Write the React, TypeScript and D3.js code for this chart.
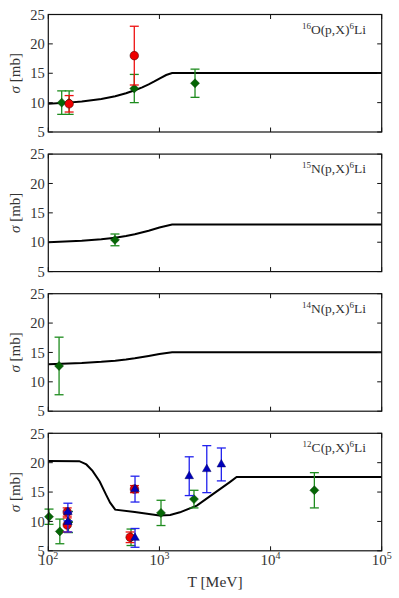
import React from 'react';
import * as d3 from 'd3';

// canvas + panel layout
const W = 399;
const H = 598;
const plotLeft = 48.3;
const plotRight = 381.7;
const panelTops = [14.5, 154.1, 293.7, 433.3];
const panelH = 117.5;

const yTicks = [5, 10, 15, 20, 25];
const xTicks = [1e2, 1e3, 1e4, 1e5];
const xTickExp = ['2', '3', '4', '5'];

// model curves: [T (MeV), sigma (mb)]
const curveO16: [number, number][] = [
  [100, 9.8], [150, 10.0], [200, 10.2], [300, 10.6], [400, 11.1], [500, 11.6],
  [600, 12.1], [700, 12.6], [800, 13.1], [900, 13.6], [1000, 14.1], [1150, 14.7],
  [1300, 15.05], [1e5, 15.05],
];
const curveN15: [number, number][] = [
  [100, 10.0], [200, 10.25], [300, 10.5], [400, 10.75], [500, 11.05], [600, 11.35],
  [800, 11.95], [1000, 12.5], [1300, 13.0], [1e5, 13.0],
];
const curveN14: [number, number][] = [
  [100, 13.0], [200, 13.2], [300, 13.4], [400, 13.6], [500, 13.8], [600, 14.0],
  [800, 14.4], [1000, 14.75], [1300, 15.05], [1e5, 15.05],
];
const curveC12: [number, number][] = [
  [100, 20.3], [190, 20.25], [220, 19.7], [250, 18.6], [290, 16.8], [330, 14.6],
  [360, 13.2], [400, 12.0], [600, 11.6], [1000, 11.0], [1250, 11.1], [1530, 11.55],
  [2170, 12.7], [3050, 14.7], [4300, 16.7], [4950, 17.55], [1e5, 17.55],
];

// measurements: [T, sigma, error]
const o16Green = [[132, 10.0, 2.0], [154, 10.0, 2.0], [594, 12.4, 2.4], [2090, 13.3, 2.4]];
const o16Red = [[154, 9.8, 1.4], [594, 18.0, 5.0]];
const n15Green = [[398, 10.4, 1.0]];
const n14Green = [[125, 12.7, 4.9]];
const c12Green = [
  [101.5, 10.8, 1.3], [127, 8.3, 2.1], [152, 9.9, 1.8], [555, 7.3, 1.4],
  [1033, 11.45, 2.15], [2046, 13.8, 1.5], [24780, 15.3, 3.0],
];
const c12Red = [[148, 11.6, 0.7], [148, 9.4, 1.2], [545, 7.3, 0.9], [596, 15.5, 0.6]];
const c12Blue = [
  [150, 11.6, 1.5], [150, 9.9, 1.7], [603, 15.5, 2.2], [603, 7.2, 1.6],
  [1854, 17.7, 3.3], [2667, 18.9, 4.0], [3606, 19.7, 2.8],
];

const panels = [
  { mass: '16', el: 'O', curve: curveO16, green: o16Green, red: o16Red, blue: [] },
  { mass: '15', el: 'N', curve: curveN15, green: n15Green, red: [], blue: [] },
  { mass: '14', el: 'N', curve: curveN14, green: n14Green, red: [], blue: [] },
  { mass: '12', el: 'C', curve: curveC12, green: c12Green, red: c12Red, blue: c12Blue },
];

const font = '"Liberation Serif", "Times New Roman", serif';
const textColor = '#333';

const x = d3.scaleLog().domain([1e2, 1e5]).range([plotLeft, plotRight]);

const diamond = d3.symbol().type(d3.symbolSquare).size(40)();
const triangle = d3.symbol().type(d3.symbolTriangle).size(32)();

function ErrBars({ pts, y, color }) {
  const cap = 4.5;
  return (
    <g stroke={color} strokeWidth={1.3}>
      {pts.map((d, i) => {
        const cx = x(d[0]);
        const y1 = y(d[1] + d[2]);
        const y2 = y(d[1] - d[2]);
        return (
          <g key={i}>
            <line x1={cx} x2={cx} y1={y1} y2={y2} />
            <line x1={cx - cap} x2={cx + cap} y1={y1} y2={y1} />
            <line x1={cx - cap} x2={cx + cap} y1={y2} y2={y2} />
          </g>
        );
      })}
    </g>
  );
}

function Panel({ p, idx }) {
  const top = panelTops[idx];
  const bottom = top + panelH;
  const y = d3.scaleLinear().domain([5, 25]).range([bottom, top]);
  const line = d3.line<[number, number]>().x(d => x(d[0])).y(d => y(d[1]));
  const tk = 4.5;
  const last = idx === panels.length - 1;

  return (
    <g>
      {/* model curve */}
      <path d={line(p.curve) || ''} fill="none" stroke="#000" strokeWidth={2} />

      {/* data */}
      <ErrBars pts={p.green} y={y} color="#1e8c1e" />
      {p.green.map((d, i) => (
        <path key={'g' + i} d={diamond} transform={`translate(${x(d[0])},${y(d[1])}) rotate(45)`}
          fill="#056605" stroke="#034003" strokeWidth={0.5} />
      ))}
      <ErrBars pts={p.red} y={y} color="#ee1111" />
      {p.red.map((d, i) => (
        <circle key={'r' + i} cx={x(d[0])} cy={y(d[1])} r={4.3} fill="#ee0000" stroke="#300" strokeWidth={0.5} />
      ))}
      <ErrBars pts={p.blue} y={y} color="#2222ee" />
      {p.blue.map((d, i) => (
        <path key={'b' + i} d={triangle} transform={`translate(${x(d[0])},${y(d[1])})`}
          fill="#0000bb" stroke="#000066" strokeWidth={0.5} />
      ))}

      {/* frame + ticks */}
      <rect x={plotLeft} y={top} width={plotRight - plotLeft} height={panelH}
        fill="none" stroke="#111" strokeWidth={1.2} />
      {yTicks.map(t => (
        <g key={'y' + t} stroke="#111" strokeWidth={1}>
          <line x1={plotLeft} x2={plotLeft + tk} y1={y(t)} y2={y(t)} />
          <line x1={plotRight - tk} x2={plotRight} y1={y(t)} y2={y(t)} />
        </g>
      ))}
      {xTicks.map(t => (
        <g key={'x' + t} stroke="#111" strokeWidth={1}>
          <line x1={x(t)} x2={x(t)} y1={bottom} y2={bottom - tk} />
          <line x1={x(t)} x2={x(t)} y1={top} y2={top + tk} />
        </g>
      ))}

      {/* y tick labels */}
      {yTicks.map(t => (
        <text key={'yl' + t} x={plotLeft - 3.5} y={y(t)} dy="0.36em" textAnchor="end"
          fontFamily={font} fontSize={14.5} fill={textColor}>{t}</text>
      ))}

      {/* y axis label */}
      <text transform={`translate(20,${(top + bottom) / 2}) rotate(-90)`} textAnchor="middle"
        fontFamily={font} fontSize={15} fill={textColor}>
        <tspan fontStyle="italic">σ</tspan> [mb]
      </text>

      {/* reaction label */}
      <text x={366} y={top + 19} textAnchor="end" fontFamily={font} fontSize={13.5} fill={textColor}>
        <tspan fontSize={9} dy={-5}>{p.mass}</tspan>
        <tspan dy={5}>{p.el}(p,X)</tspan>
        <tspan fontSize={9} dy={-5}>6</tspan>
        <tspan dy={5}>Li</tspan>
      </text>

      {last && xTicks.map((t, i) => (
        <text key={'xl' + t} x={x(t)} y={bottom + 14} textAnchor="middle"
          fontFamily={font} fontSize={15} fill={textColor}>
          10<tspan fontSize={10} dy={-6}>{xTickExp[i]}</tspan>
        </text>
      ))}
    </g>
  );
}

export default function App() {
  return (
    <svg width={W} height={H} style={{ position: 'absolute', left: 0, top: 0, background: '#fff' }}>
      <rect width={W} height={H} fill="#fff" />
      {panels.map((p, i) => <Panel key={i} p={p} idx={i} />)}
      <text x={(plotLeft + plotRight) / 2} y={587} textAnchor="middle" fontFamily={font}
        fontSize={15.5} fill={textColor}>T [MeV]</text>
    </svg>
  );
}
